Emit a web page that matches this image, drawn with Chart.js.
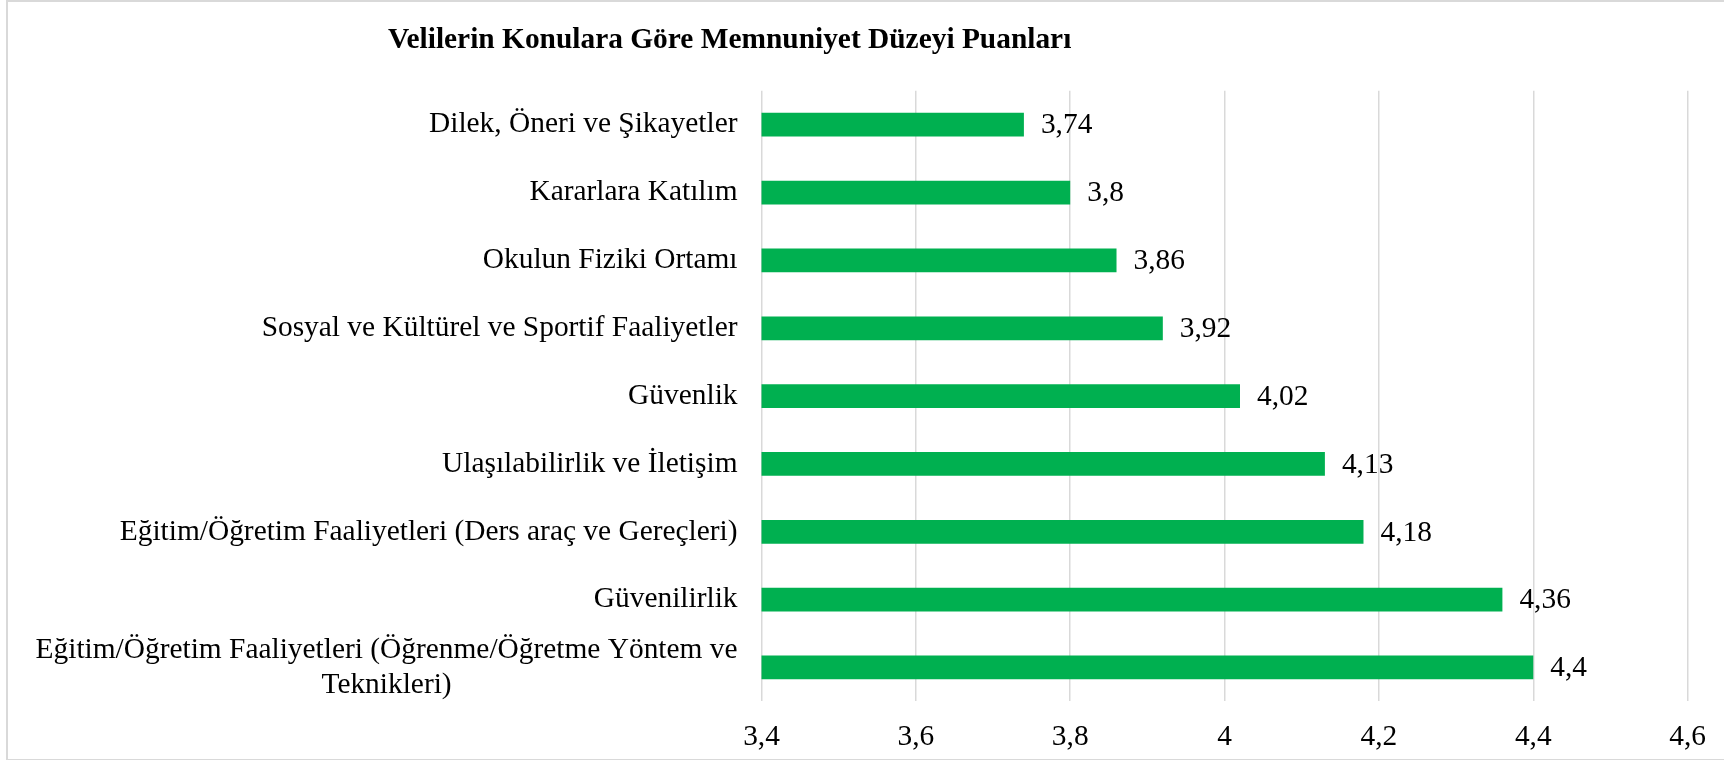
<!DOCTYPE html>
<html>
<head>
<meta charset="utf-8">
<script src="https://cdn.jsdelivr.net/npm/chart.js@4"></script>
<style>
  html, body { margin: 0; padding: 0; background: #fff; }
  #wrap { position: relative; width: 1724px; height: 760px; overflow: hidden; }
  #frame { position: absolute; left: 6px; top: 0; width: 1730px; height: 757px; border: 2px solid #d9d9d9; box-sizing: content-box; pointer-events: none; }
  #title { position: absolute; left: 388px; top: 24px; font-family: 'Liberation Serif', 'Times New Roman', serif; font-weight: bold; font-size: 29.4px; line-height: 29px; white-space: nowrap; color: #000; }
  canvas { position: absolute; left: 0; top: 0; }
</style>
</head>
<body>
<div id="wrap">
  <canvas id="c" width="1724" height="760"></canvas>
  <div id="frame"></div>
  <div id="title">Velilerin Konulara Göre Memnuniyet Düzeyi Puanları</div>
</div>
<script>
const categories = [
  'Dilek, Öneri ve Şikayetler',
  'Kararlara Katılım',
  'Okulun Fiziki Ortamı',
  'Sosyal ve Kültürel ve Sportif Faaliyetler',
  'Güvenlik',
  'Ulaşılabilirlik ve İletişim',
  'Eğitim/Öğretim Faaliyetleri (Ders araç ve Gereçleri)',
  'Güvenilirlik',
  ['Eğitim/Öğretim Faaliyetleri (Öğrenme/Öğretme Yöntem ve', 'Teknikleri)']
];
const scores = [3.74, 3.8, 3.86, 3.92, 4.02, 4.13, 4.18, 4.36, 4.4];
const xMin = 3.4, xMax = 4.6, xStep = 0.2;

const FONT = "'Liberation Serif', 'Times New Roman', serif";
const FSIZE = 29.4;
const fmt = v => String(Number(v.toFixed(2))).replace('.', ',');

const labelPlugin = {
  id: 'customLabels',
  afterDatasetsDraw(chart) {
    const ctx = chart.ctx;
    ctx.save();
    ctx.font = FSIZE + 'px ' + FONT;
    ctx.fillStyle = '#000';
    ctx.textBaseline = 'middle';
    ctx.textAlign = 'left';
    const meta = chart.getDatasetMeta(0);
    meta.data.forEach((bar, i) => {
      ctx.fillText(fmt(scores[i]), bar.x + 17, bar.y + 1);
    });
    // multi-line category labels: lines centred on each other, block right-aligned
    const ys = chart.scales.y;
    const pad = ys.options.ticks.padding;
    categories.forEach((c, i) => {
      if (!Array.isArray(c)) return;
      const widest = Math.max(...c.map(l => ctx.measureText(l).width));
      const cx = ys.right - pad - widest / 2;
      const cy = ys.getPixelForValue(i);
      const lh = FSIZE * 1.2;
      ctx.textAlign = 'center';
      c.forEach((line, k) => {
        ctx.fillText(line, cx, cy + (k - (c.length - 1) / 2) * lh);
      });
    });
    ctx.restore();
  }
};

new Chart(document.getElementById('c'), {
  type: 'bar',
  data: {
    labels: categories,
    datasets: [{
      data: scores,
      backgroundColor: '#00B050',
      borderWidth: 0,
      categoryPercentage: 1,
      barPercentage: 0.35
    }]
  },
  options: {
    indexAxis: 'y',
    responsive: false,
    animation: false,
    events: [],
    layout: { padding: { left: 0, right: 34.5, top: 90.8, bottom: 0 } },
    plugins: { legend: { display: false }, title: { display: false }, tooltip: { enabled: false } },
    scales: {
      x: {
        min: xMin, max: xMax,
        afterFit: s => { s.height = 58.6; },
        grid: { color: '#d9d9d9', lineWidth: 1.5, drawTicks: false },
        border: { display: false },
        ticks: {
          stepSize: xStep,
          padding: 18,
          color: '#000',
          font: { family: FONT, size: FSIZE },
          callback: v => fmt(v)
        }
      },
      y: {
        afterFit: s => { s.width = 761.5; },
        grid: { display: false, drawTicks: false },
        border: { display: false },
        ticks: {
          autoSkip: false,
          padding: 24,
          color: c => Array.isArray(categories[c.index]) ? 'rgba(0,0,0,0)' : '#000',
          font: { family: FONT, size: FSIZE }
        }
      }
    }
  },
  plugins: [labelPlugin]
});
</script>
</body>
</html>
